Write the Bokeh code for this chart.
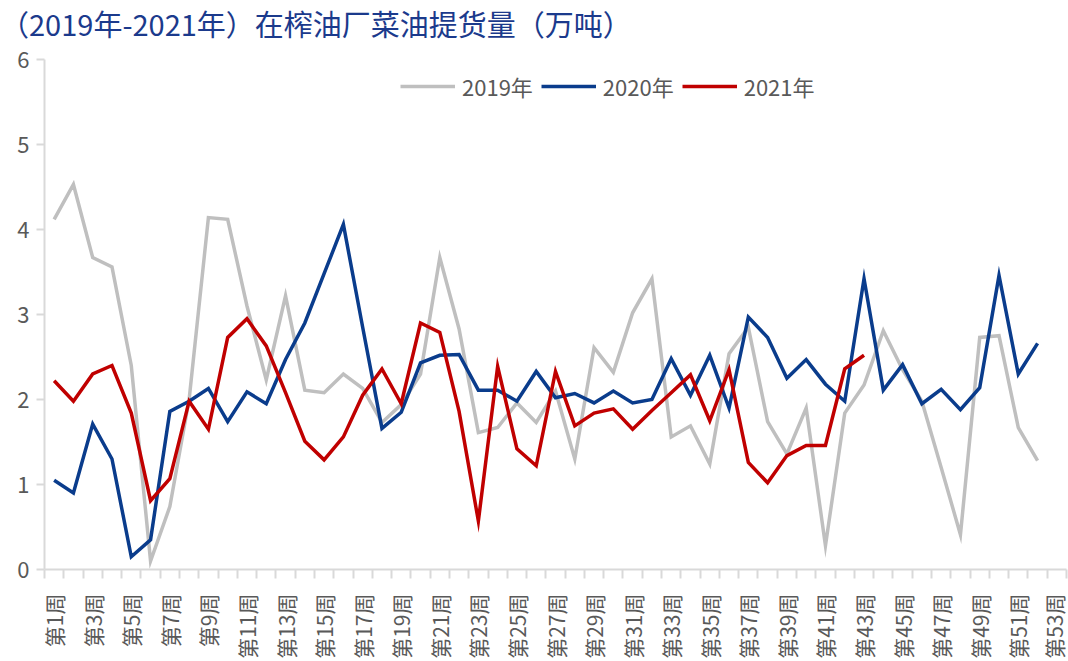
import math
from bokeh.plotting import figure
from bokeh.layouts import column
from bokeh.models import FixedTicker, Legend, LegendItem, Range1d, Div
from bokeh.embed import file_html
from bokeh.resources import INLINE

# ---------------- data ----------------
weeks = list(range(1, 54))
tick_weeks = [w for w in weeks if w % 2 == 1]
tick_labels = {w: f"第{w}周" for w in tick_weeks}

y2019 = [4.12, 4.53, 3.67, 3.56, 2.40, 0.10, 0.74, 2.00, 4.14, 4.12,
         3.10, 2.23, 3.22, 2.11, 2.08, 2.30, 2.13, 1.73, 1.94, 2.30,
         3.67, 2.83, 1.61, 1.67, 1.96, 1.73, 2.10, 1.30, 2.61, 2.32,
         3.02, 3.42, 1.56, 1.69, 1.24, 2.54, 2.85, 1.74, 1.36, 1.90,
         0.28, 1.84, 2.17, 2.81, 2.35, 1.98, 1.20, 0.41, 2.73, 2.75,
         1.67, 1.28]
y2020 = [1.05, 0.90, 1.71, 1.30, 0.15, 0.35, 1.86, 1.98, 2.13, 1.74,
         2.09, 1.95, 2.47, 2.90, 3.48, 4.06, 2.85, 1.66, 1.85, 2.43,
         2.52, 2.53, 2.11, 2.11, 1.98, 2.33, 2.02, 2.07, 1.96, 2.10,
         1.96, 2.00, 2.48, 2.05, 2.52, 1.90, 2.97, 2.73, 2.25, 2.47,
         2.18, 1.98, 3.42, 2.11, 2.41, 1.95, 2.12, 1.88, 2.14, 3.46,
         2.30, 2.66]
y2021 = [2.22, 1.98, 2.30, 2.40, 1.84, 0.81, 1.07, 1.98, 1.65, 2.73,
         2.95, 2.63, 2.08, 1.51, 1.29, 1.56, 2.05, 2.36, 1.95, 2.90,
         2.79, 1.86, 0.57, 2.39, 1.42, 1.22, 2.33, 1.69, 1.84, 1.89,
         1.65, 1.87, 2.08, 2.29, 1.75, 2.35, 1.26, 1.02, 1.34, 1.46,
         1.46, 2.36, 2.52]

series_names = ["2019年", "2020年", "2021年"]
series_colors = ["#BFBFBF", "#0A3C8C", "#C00000"]
y_ticks = [0, 1, 2, 3, 4, 5, 6]

title_text = "（2019年-2021年）在榨油厂菜油提货量（万吨）"

FONT = "Noto Sans CJK SC"

# ---------------- title ----------------
TITLE_H = 40
title_div = Div(text=title_text, width=1068, height=TITLE_H,
                styles={"font-family": FONT, "font-size": "29px",
                        "color": "#1B3A8C", "line-height": "29px",
                        "padding-top": "9px", "margin": "0px",
                        "white-space": "nowrap"})

# ---------------- figure ----------------
W, H = 1068, 661 - TITLE_H
p = figure(width=W, height=H, output_backend="svg", toolbar_location=None,
           x_range=Range1d(0.5, 53.5), y_range=Range1d(0, 6),
           min_border_left=44, min_border_right=2,
           min_border_top=59 - TITLE_H, min_border_bottom=84)
p.outline_line_color = None
p.xgrid.visible = False
p.ygrid.visible = False
p.background_fill_color = "white"
p.border_fill_color = "white"

renderers = []
for vals, col in zip([y2019, y2020, y2021], series_colors):
    r = p.line(weeks[:len(vals)], vals, line_color=col, line_width=3.5,
               line_join="miter")
    renderers.append(r)

# x axis
xa = p.xaxis[0]
xa.ticker = FixedTicker(ticks=tick_weeks,
                        minor_ticks=[w - 0.5 for w in weeks] + [53.5])
xa.major_label_overrides = tick_labels
xa.major_tick_out = 0
xa.major_tick_in = 0
xa.minor_tick_out = 9
xa.minor_tick_in = 0
xa.minor_tick_line_color = "#D9D9D9"
xa.minor_tick_line_width = 2
xa.axis_line_color = "#D9D9D9"
xa.axis_line_width = 2
xa.major_label_orientation = math.pi / 2
xa.major_label_standoff = 15
xa.major_label_text_font = FONT
xa.major_label_text_font_size = "21px"
xa.major_label_text_color = "#595959"

# y axis
ya = p.yaxis[0]
ya.ticker = FixedTicker(ticks=y_ticks)
ya.major_tick_out = 8
ya.major_tick_in = 0
ya.minor_tick_out = 0
ya.minor_tick_in = 0
ya.major_tick_line_color = "#D9D9D9"
ya.major_tick_line_width = 2
ya.axis_line_color = "#D9D9D9"
ya.axis_line_width = 2
ya.major_label_standoff = 7
ya.major_label_text_font = FONT
ya.major_label_text_font_size = "22px"
ya.major_label_text_color = "#595959"

# legend
legend = Legend(items=[LegendItem(label=n, renderers=[r])
                       for n, r in zip(series_names, renderers)],
                orientation="horizontal", location=(356, 467),
                border_line_color=None, background_fill_alpha=0,
                padding=0, margin=0, spacing=8,
                glyph_width=55, glyph_height=20, label_height=20,
                label_standoff=7,
                label_text_font=FONT, label_text_font_size="22px",
                label_text_color="#595959")
p.add_layout(legend)

layout = column(title_div, p, spacing=0)

open("out.html", "w").write(file_html(layout, INLINE))
